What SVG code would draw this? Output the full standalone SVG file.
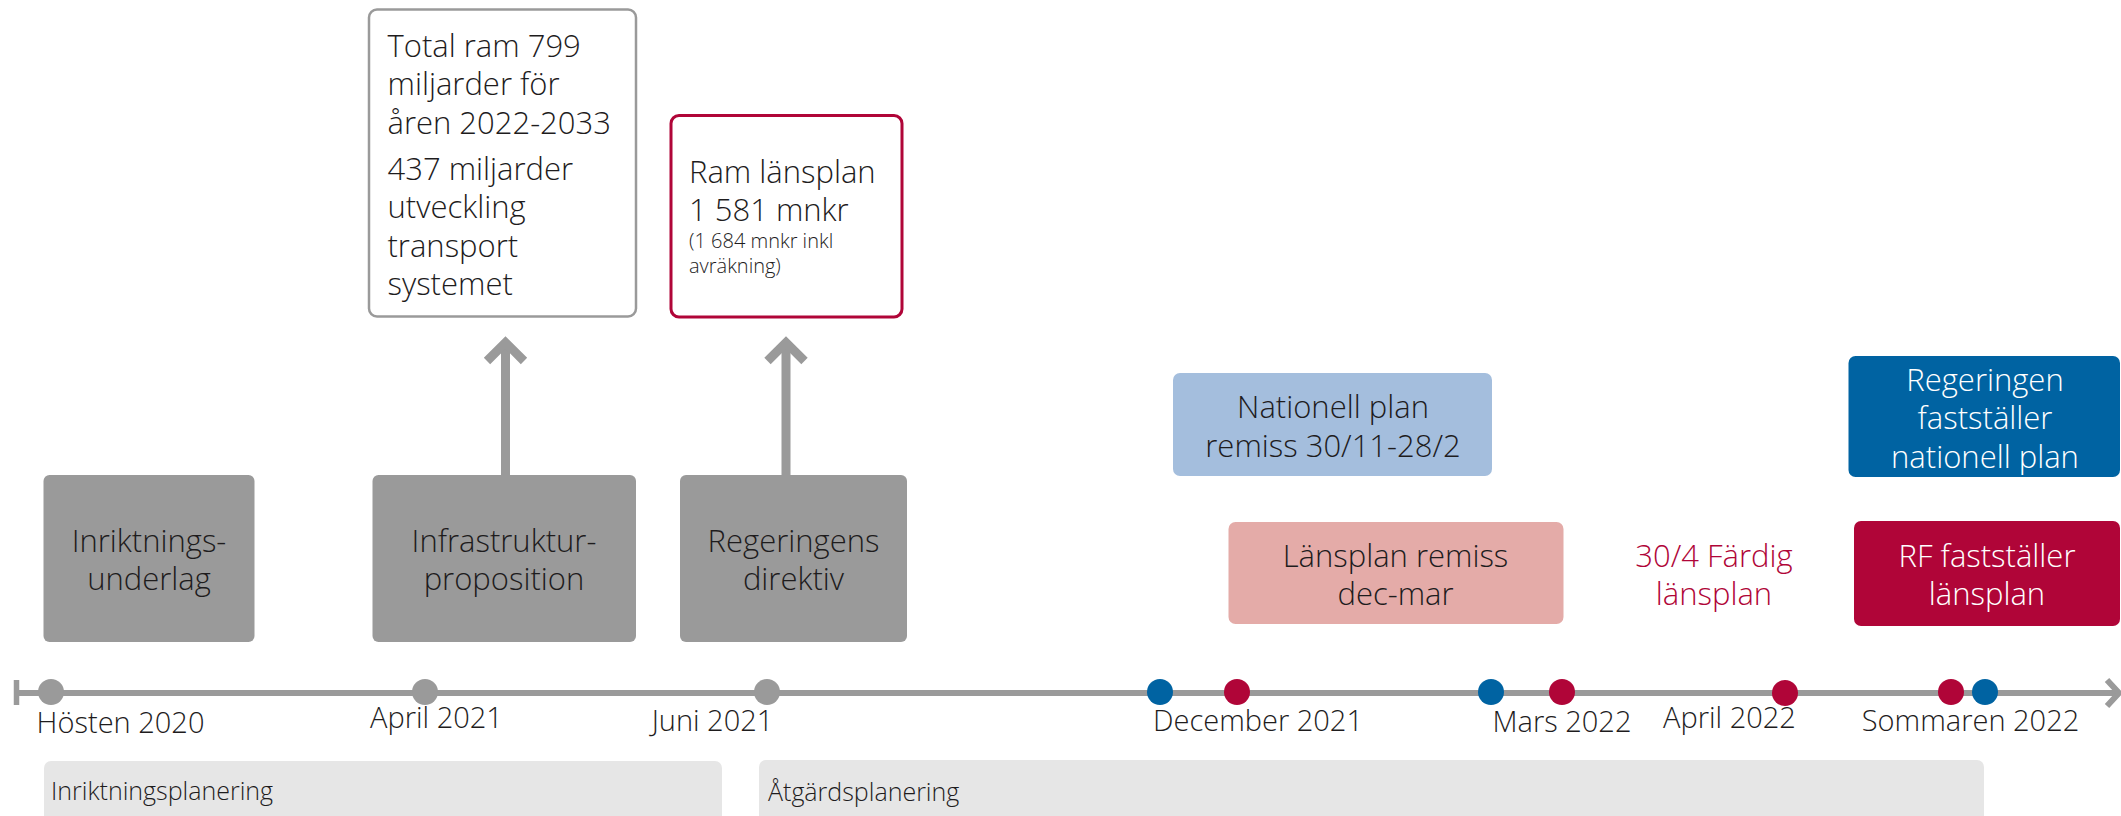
<svg xmlns="http://www.w3.org/2000/svg" width="2121" height="816" viewBox="0 0 2121 816">
<defs>
<style>
text{font-family:"Open Sans","Liberation Sans",sans-serif;font-weight:300;fill:#1e1c1d}
.big{font-size:31px}
.mid{text-anchor:middle}
.lbl{font-size:29px;text-anchor:middle}
.bar{font-size:25px}
.small{font-size:20px}
.white{fill:#ffffff}
.red{fill:#b00538}
.gbox{fill:#9a9a9a}
.dot-g{fill:#9a9a9a}
.dot-b{fill:#0063a2}
.dot-r{fill:#b00538}
.arrow{fill:none;stroke:#9a9a9a;stroke-width:9}
</style>
</defs>
<rect width="2121" height="816" fill="#ffffff"/>

<g id="bars">
<rect x="44" y="761" width="678" height="70" rx="7" fill="#e6e6e6"/>
<text class="bar" x="51" y="800">Inriktningsplanering</text>
<rect x="759" y="760" width="1225" height="70" rx="7" fill="#e6e6e6"/>
<text class="bar" x="768" y="801">Åtgärdsplanering</text>
</g>

<g id="connectors">
<line x1="505.5" y1="345" x2="505.5" y2="475" class="arrow"/>
<polyline points="487,361 505.5,342.5 524,361" class="arrow"/>
<line x1="786" y1="345" x2="786" y2="475" class="arrow"/>
<polyline points="767.5,361 786,342.5 804.5,361" class="arrow"/>
</g>

<g id="timeline">
<line x1="16" y1="693" x2="2116" y2="693" stroke="#9a9a9a" stroke-width="6"/>
<line x1="16.5" y1="680" x2="16.5" y2="705" stroke="#9a9a9a" stroke-width="5.5"/>
<polyline points="2107,680 2119,693 2107,706" fill="none" stroke="#9a9a9a" stroke-width="6"/>
<circle class="dot-g" cx="51" cy="692" r="13"/>
<circle class="dot-g" cx="425" cy="692" r="13"/>
<circle class="dot-g" cx="767" cy="692" r="13"/>
<circle class="dot-b" cx="1160" cy="692" r="13"/>
<circle class="dot-r" cx="1237" cy="692" r="13"/>
<circle class="dot-b" cx="1491" cy="692" r="13"/>
<circle class="dot-r" cx="1562" cy="692" r="13"/>
<circle class="dot-r" cx="1785" cy="693" r="13"/>
<circle class="dot-r" cx="1951" cy="692" r="13"/>
<circle class="dot-b" cx="1985" cy="692" r="13"/>
<text class="lbl" x="120.5" y="733">Hösten 2020</text>
<text class="lbl" x="436.5" y="728">April 2021</text>
<text class="lbl" x="712.5" y="731">Juni 2021</text>
<text class="lbl" x="1258" y="731">December 2021</text>
<text class="lbl" x="1562" y="732">Mars 2022</text>
<text class="lbl" x="1729.5" y="728">April 2022</text>
<text class="lbl" x="1970.5" y="731">Sommaren 2022</text>
</g>

<g id="inriktningsunderlag">
<rect class="gbox" x="43.5" y="475" width="211" height="167" rx="6"/>
<text class="big mid" x="149" y="552">Inriktnings-</text>
<text class="big mid" x="149" y="590">underlag</text>
</g>

<g id="infrastrukturproposition">
<rect class="gbox" x="372.5" y="475" width="263.5" height="167" rx="6"/>
<text class="big mid" x="504" y="552">Infrastruktur-</text>
<text class="big mid" x="504" y="590">proposition</text>
</g>

<g id="regeringens-direktiv">
<rect class="gbox" x="680" y="475" width="227" height="167" rx="6"/>
<text class="big mid" x="793.5" y="552">Regeringens</text>
<text class="big mid" x="793.5" y="590">direktiv</text>
</g>

<g id="total-ram">
<rect x="369" y="9.5" width="267" height="307" rx="8" fill="#ffffff" stroke="#9a9a9a" stroke-width="2.5"/>
<text class="big" x="387.5" y="57">Total ram 799</text>
<text class="big" x="387.5" y="95">miljarder för</text>
<text class="big" x="387.5" y="134">åren 2022-2033</text>
<text class="big" x="387.5" y="180">437 miljarder</text>
<text class="big" x="387.5" y="218">utveckling</text>
<text class="big" x="387.5" y="257">transport</text>
<text class="big" x="387.5" y="295">systemet</text>
</g>

<g id="ram-lansplan">
<rect x="671" y="115.5" width="231" height="201.5" rx="8" fill="#ffffff" stroke="#b00538" stroke-width="3"/>
<text class="big" x="689" y="183">Ram länsplan</text>
<text class="big" x="689" y="221">1 581 mnkr</text>
<text class="small" x="689" y="248">(1 684 mnkr inkl</text>
<text class="small" x="689" y="273">avräkning)</text>
</g>

<g id="nationell-plan-remiss">
<rect x="1173" y="373" width="319" height="103" rx="7" fill="#a4bedd"/>
<text class="big mid" x="1333" y="418">Nationell plan</text>
<text class="big mid" x="1333" y="457">remiss 30/11-28/2</text>
</g>

<g id="lansplan-remiss">
<rect x="1228.5" y="522" width="335" height="102" rx="7" fill="#e4aba8"/>
<text class="big mid" x="1395.5" y="567">Länsplan remiss</text>
<text class="big mid" x="1395.5" y="605">dec-mar</text>
</g>

<g id="fardig-lansplan">
<text class="big mid red" x="1714" y="567">30/4 Färdig</text>
<text class="big mid red" x="1714" y="605">länsplan</text>
</g>

<g id="regeringen-faststaller">
<rect x="1848.5" y="356" width="271.5" height="121" rx="7" fill="#0063a2"/>
<text class="big mid white" x="1985" y="391">Regeringen</text>
<text class="big mid white" x="1985" y="429">fastställer</text>
<text class="big mid white" x="1985" y="468">nationell plan</text>
</g>

<g id="rf-faststaller">
<rect x="1854" y="521" width="266" height="105" rx="7" fill="#b00538"/>
<text class="big mid white" x="1987" y="567">RF fastställer</text>
<text class="big mid white" x="1987" y="605">länsplan</text>
</g>
</svg>
